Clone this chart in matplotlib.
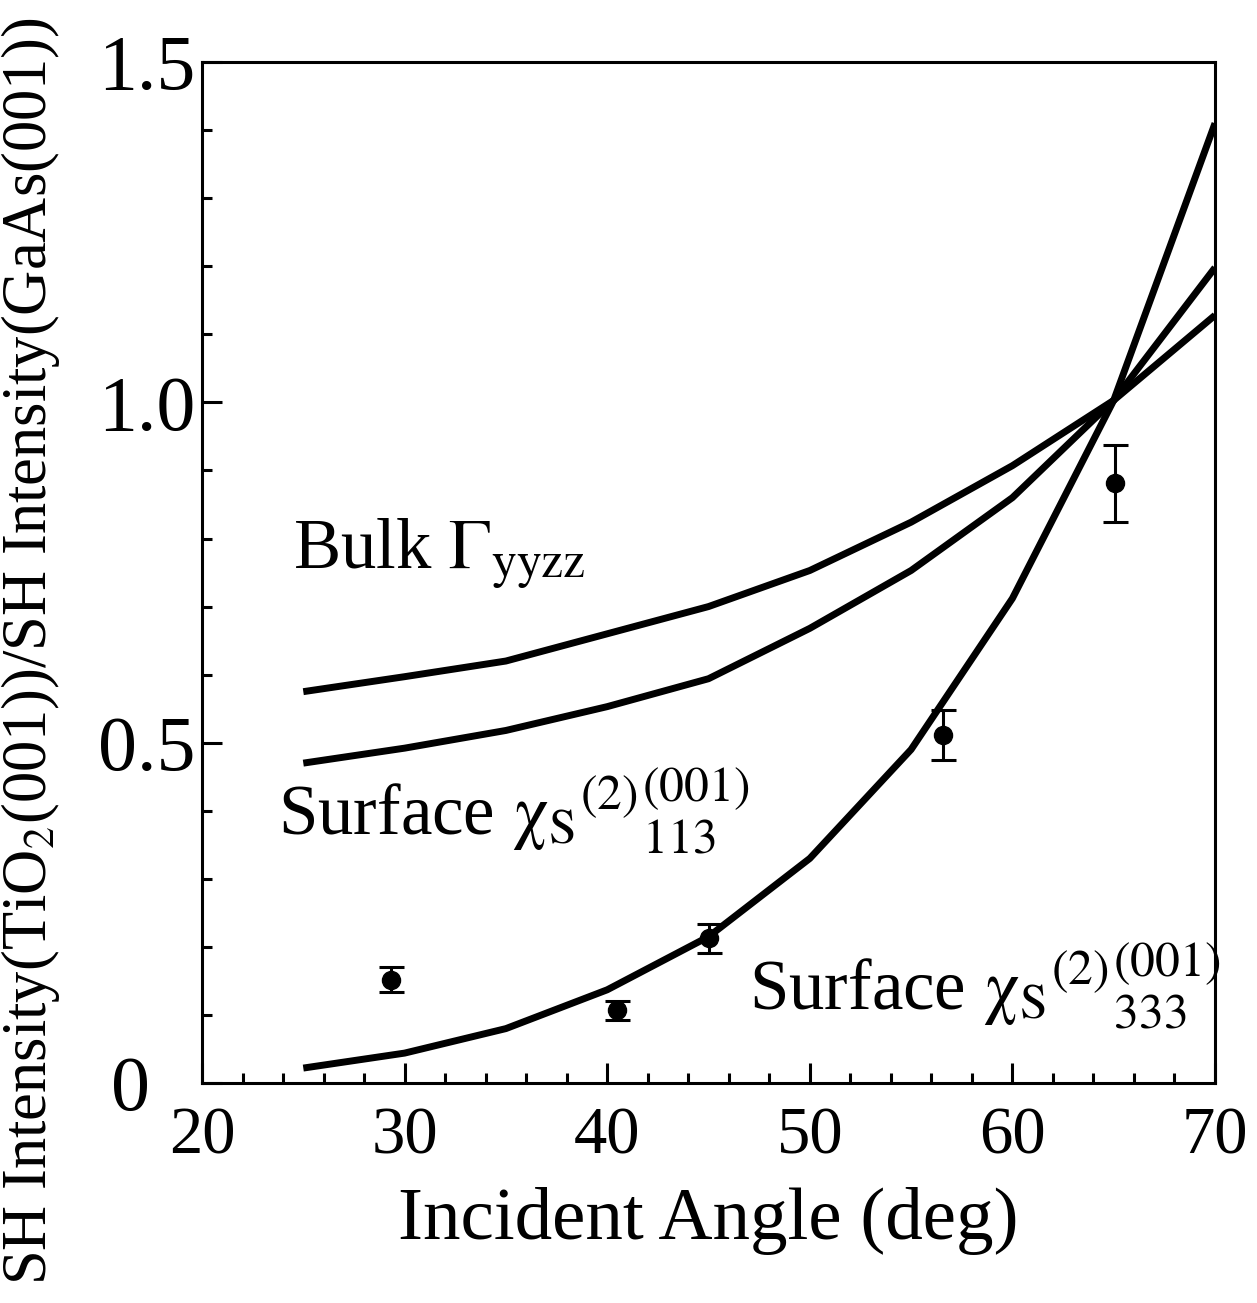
import matplotlib
matplotlib.use("Agg")
import matplotlib.pyplot as plt
import matplotlib.transforms as mtrans
from matplotlib.ticker import MultipleLocator, FixedLocator, FuncFormatter

# model curves, one point every 5 degrees
angles = [25, 30, 35, 40, 45, 50, 55, 60, 65, 70]
bulk_yyzz = [0.575, 0.597, 0.620, 0.660, 0.700, 0.753, 0.824, 0.907, 1.003, 1.128]
surf_113 = [0.470, 0.492, 0.518, 0.553, 0.594, 0.668, 0.753, 0.860, 1.003, 1.198]
surf_333 = [0.022, 0.044, 0.080, 0.137, 0.215, 0.330, 0.490, 0.712, 1.003, 1.410]

# measured points
exp_angle = [29.35, 40.48, 45.0, 56.58, 65.05]
exp_val = [0.152, 0.107, 0.2125, 0.511, 0.881]
exp_err = [0.018, 0.014, 0.021, 0.037, 0.057]

y_major = [0, 0.5, 1.0, 1.5]
y_labels = ["0", "0.5", "1.0", "1.5"]

plt.rcParams["font.family"] = ["Liberation Serif", "DejaVu Serif"]
plt.rcParams["mathtext.fontset"] = "stix"

fig = plt.figure(figsize=(12.57, 13.03), dpi=100)
ax = fig.add_axes([0.1607, 0.1688, 0.8059, 0.7836])

for ys in (bulk_yyzz, surf_113, surf_333):
    ax.plot(angles, ys, color="black", lw=5, solid_capstyle="butt", solid_joinstyle="round")

ax.errorbar(exp_angle, exp_val, yerr=exp_err, fmt="o", color="black", ms=13,
            elinewidth=2.2, capsize=9, capthick=2.2)

ax.set_xlim(20, 70)
ax.set_ylim(0, 1.5)
ax.xaxis.set_major_locator(MultipleLocator(10))
ax.xaxis.set_minor_locator(MultipleLocator(2))
ax.yaxis.set_major_locator(FixedLocator(y_major))
ax.yaxis.set_major_formatter(FuncFormatter(lambda v, p: y_labels[y_major.index(round(v, 1))] if round(v, 1) in y_major else ""))
ax.yaxis.set_minor_locator(MultipleLocator(0.1))

ax.tick_params(which="both", direction="in", top=False, right=False, width=2.2)
ax.tick_params(which="major", length=14.5)
ax.tick_params(which="minor", length=7.5)
ax.tick_params(axis="x", which="major", labelsize=48, pad=17)
ax.tick_params(axis="y", which="major", labelsize=56, pad=5)

for s in ax.spines.values():
    s.set_linewidth(2.2)

# the "0" label sits further left than the others in the original
fig.canvas.draw()
zero_lab = ax.yaxis.get_major_ticks()[0].label1
zero_lab.set_transform(zero_lab.get_transform() + mtrans.ScaledTranslation(-0.45, 0, fig.dpi_scale_trans))

ax.set_xlabel("Incident Angle (deg)", fontsize=54, labelpad=14)
fig.text(0.024, 0.5, "SH Intensity(TiO$_{2}$(001))/SH Intensity(GaAs(001))",
         rotation=90, fontsize=45, ha="center", va="center")

ax.text(24.5, 0.756, r"Bulk $\Gamma_{\mathrm{yyzz}}$", fontsize=51)
ax.text(23.76, 0.364, r"Surface $\mathrm{\chi}_{\mathrm{S}}{}^{(2)}{}^{(001)}_{113}$", fontsize=51)
ax.text(47.0, 0.107, r"Surface $\mathrm{\chi}_{\mathrm{S}}{}^{(2)}{}^{(001)}_{333}$", fontsize=51)

fig.savefig("out.png", dpi=100)
